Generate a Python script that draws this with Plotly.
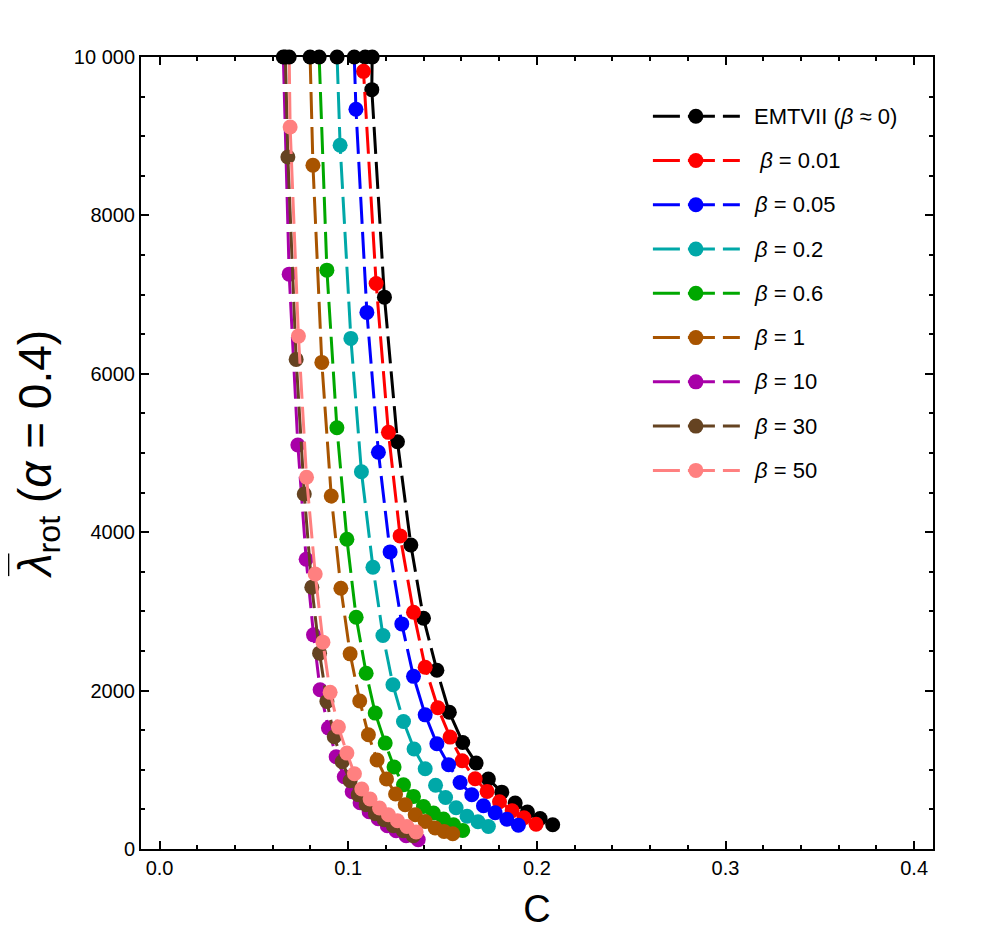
import plotly.graph_objects as go

# ---------------- data ----------------
labels = ["EMTVII (<i>β</i> ≈ 0)", " <i>β</i> = 0.01", "<i>β</i> = 0.05", "<i>β</i> = 0.2",
          "<i>β</i> = 0.6", "<i>β</i> = 1", "<i>β</i> = 10", "<i>β</i> = 30", "<i>β</i> = 50"]

c_emt = [0.1127, 0.1125, 0.1192, 0.1261, 0.1332, 0.1399, 0.1470, 0.1536, 0.1607, 0.1678, 0.1743, 0.1814, 0.1885, 0.1950, 0.2017, 0.2084]
l_emt = [10000, 9588, 6968, 5142, 3839, 2914, 2256, 1726, 1345, 1085, 883, 718, 580, 468, 386, 307]

c_b001 = [0.1090, 0.1081, 0.1148, 0.1213, 0.1275, 0.1346, 0.1408, 0.1475, 0.1540, 0.1604, 0.1673, 0.1736, 0.1802, 0.1869, 0.1932, 0.1996]
l_b001 = [10000, 9819, 7141, 5261, 3953, 2990, 2294, 1783, 1413, 1114, 887, 727, 597, 483, 395, 313]

c_b005 = [0.1032, 0.1041, 0.1099, 0.1160, 0.1222, 0.1284, 0.1346, 0.1408, 0.1470, 0.1532, 0.1593, 0.1655, 0.1717, 0.1779, 0.1841, 0.1902]
l_b005 = [10000, 9340, 6775, 5009, 3751, 2842, 2180, 1694, 1328, 1064, 840, 685, 546, 458, 376, 300]

c_b02 = [0.0941, 0.0957, 0.1014, 0.1070, 0.1131, 0.1184, 0.1237, 0.1293, 0.1349, 0.1408, 0.1463, 0.1516, 0.1572, 0.1630, 0.1688, 0.1743]
l_b02 = [10000, 8886, 6447, 4764, 3558, 2695, 2073, 1610, 1262, 1013, 805, 651, 521, 414, 344, 285]

c_b06 = [0.0846, 0.0887, 0.0940, 0.0993, 0.1042, 0.1095, 0.1143, 0.1196, 0.1243, 0.1293, 0.1346, 0.1399, 0.1452, 0.1505, 0.1558, 0.1607]
l_b06 = [10000, 7309, 5319, 3911, 2927, 2220, 1716, 1337, 1035, 811, 664, 537, 454, 378, 307, 235]

c_b1 = [0.0798, 0.0813, 0.0860, 0.0910, 0.0961, 0.1010, 0.1061, 0.1107, 0.1153, 0.1203, 0.1251, 0.1302, 0.1355, 0.1408, 0.1461, 0.1508, 0.1554]
l_b1 = [10000, 8633, 6144, 4457, 3293, 2464, 1868, 1442, 1123, 883, 695, 559, 433, 348, 265, 222, 193]

c_b10 = [0.0656, 0.0687, 0.0733, 0.0777, 0.0816, 0.0851, 0.0895, 0.0936, 0.0979, 0.1021, 0.1063, 0.1111, 0.1159, 0.1207, 0.1254, 0.1307, 0.1371]
l_b10 = [10000, 7258, 5101, 3659, 2704, 2010, 1527, 1164, 912, 723, 584, 471, 382, 294, 231, 168, 118]

c_b30 = [0.0667, 0.0680, 0.0724, 0.0767, 0.0807, 0.0848, 0.0887, 0.0926, 0.0968, 0.1010, 0.1053, 0.1095, 0.1144, 0.1191, 0.1239, 0.1292, 0.1345]
l_b30 = [10000, 8738, 6182, 4483, 3305, 2473, 1862, 1417, 1101, 862, 685, 559, 446, 370, 294, 231, 168]

c_b50 = [0.0687, 0.0692, 0.0736, 0.0779, 0.0825, 0.0866, 0.0904, 0.0948, 0.0993, 0.1033, 0.1072, 0.1116, 0.1166, 0.1213, 0.1261, 0.1311, 0.1360]
l_b50 = [10000, 9117, 6476, 4693, 3473, 2612, 1978, 1539, 1211, 950, 757, 631, 517, 433, 357, 285, 214]

y_ticks = [0, 2000, 4000, 6000, 8000, 10000]
y_ticktext = ["0", "2000", "4000", "6000", "8000", "10 000"]
x_ticks = [0.0, 0.1, 0.2, 0.3, 0.4]
x_ticktext = ["0.0", "0.1", "0.2", "0.3", "0.4"]

colors = ["#000000", "#ff0000", "#0000ff", "#00a8a8", "#00a800",
          "#a85400", "#a800a8", "#654321", "#ff8080"]

series = [(c_emt, l_emt), (c_b001, l_b001), (c_b005, l_b005), (c_b02, l_b02), (c_b06, l_b06),
          (c_b1, l_b1), (c_b10, l_b10), (c_b30, l_b30), (c_b50, l_b50)]

FONT = "Liberation Sans, Arial, sans-serif"
DASH = "27px,8px"
MSIZE = 15

fig = go.Figure()

for (cx, ly), col in zip(series, colors):
    mcols = ["#000000" if v >= 10000 else col for v in ly]
    fig.add_trace(go.Scatter(
        x=cx, y=ly, mode="lines+markers",
        line=dict(color=col, width=3, dash=DASH),
        marker=dict(color=mcols, size=MSIZE, opacity=1, line=dict(width=0)),
        cliponaxis=False, showlegend=False, hoverinfo="skip"))

# ---------- custom legend (pixel coordinate overlay, relative to plot frame) ----------
leg_y0 = 116.0
leg_dy = 44.3
for i, (lab, col) in enumerate(zip(labels, colors)):
    yy = leg_y0 + i * leg_dy
    fig.add_trace(go.Scatter(
        x=[653, 740], y=[yy, yy], xaxis="x2", yaxis="y2",
        mode="lines", line=dict(color=col, width=3, dash=DASH),
        cliponaxis=False, showlegend=False, hoverinfo="skip"))
    fig.add_trace(go.Scatter(
        x=[696], y=[yy], xaxis="x2", yaxis="y2",
        mode="markers", marker=dict(color=col, size=MSIZE, opacity=1, line=dict(width=0)),
        cliponaxis=False, showlegend=False, hoverinfo="skip"))
    fig.add_annotation(x=752, y=yy, xref="x2", yref="y2", text=lab,
                       showarrow=False, xanchor="left", yanchor="middle",
                       font=dict(family=FONT, size=22, color="#000000"))

axis_common = dict(
    showline=True, linecolor="#000000", linewidth=2, mirror="allticks",
    ticks="inside", ticklen=8, tickwidth=1.5, tickcolor="#000000",
    showgrid=False, zeroline=False, automargin=False,
    tickfont=dict(family=FONT, size=20, color="#000000"),
)

fig.update_layout(
    width=997, height=939,
    margin=dict(l=133, r=72, t=49, b=98),
    paper_bgcolor="white", plot_bgcolor="white",
    showlegend=False,
    xaxis=dict(
        range=[-0.00985, 0.41], tickvals=x_ticks, ticktext=x_ticktext,
        minor=dict(dtick=0.02, ticks="inside", ticklen=4, tickwidth=1.5, tickcolor="#000000"),
        title=dict(text="C", font=dict(family=FONT, size=38, color="#000000"), standoff=17),
        **axis_common),
    yaxis=dict(
        range=[0, 10000], tickvals=y_ticks, ticktext=y_ticktext,
        minor=dict(dtick=500, ticks="inside", ticklen=4, tickwidth=1.5, tickcolor="#000000"),
        title=dict(text="<span style='text-decoration:overline'><i>λ</i></span><sub>rot</sub> (<i>α</i> = 0.4)",
                   font=dict(family=FONT, size=46, color="#000000"), standoff=8),
        **axis_common),
    xaxis2=dict(overlaying="x", range=[140.7, 933.3], visible=False, fixedrange=True),
    yaxis2=dict(overlaying="y", range=[849.3, 56.7], visible=False, fixedrange=True),
)

fig.write_html("out.html")
